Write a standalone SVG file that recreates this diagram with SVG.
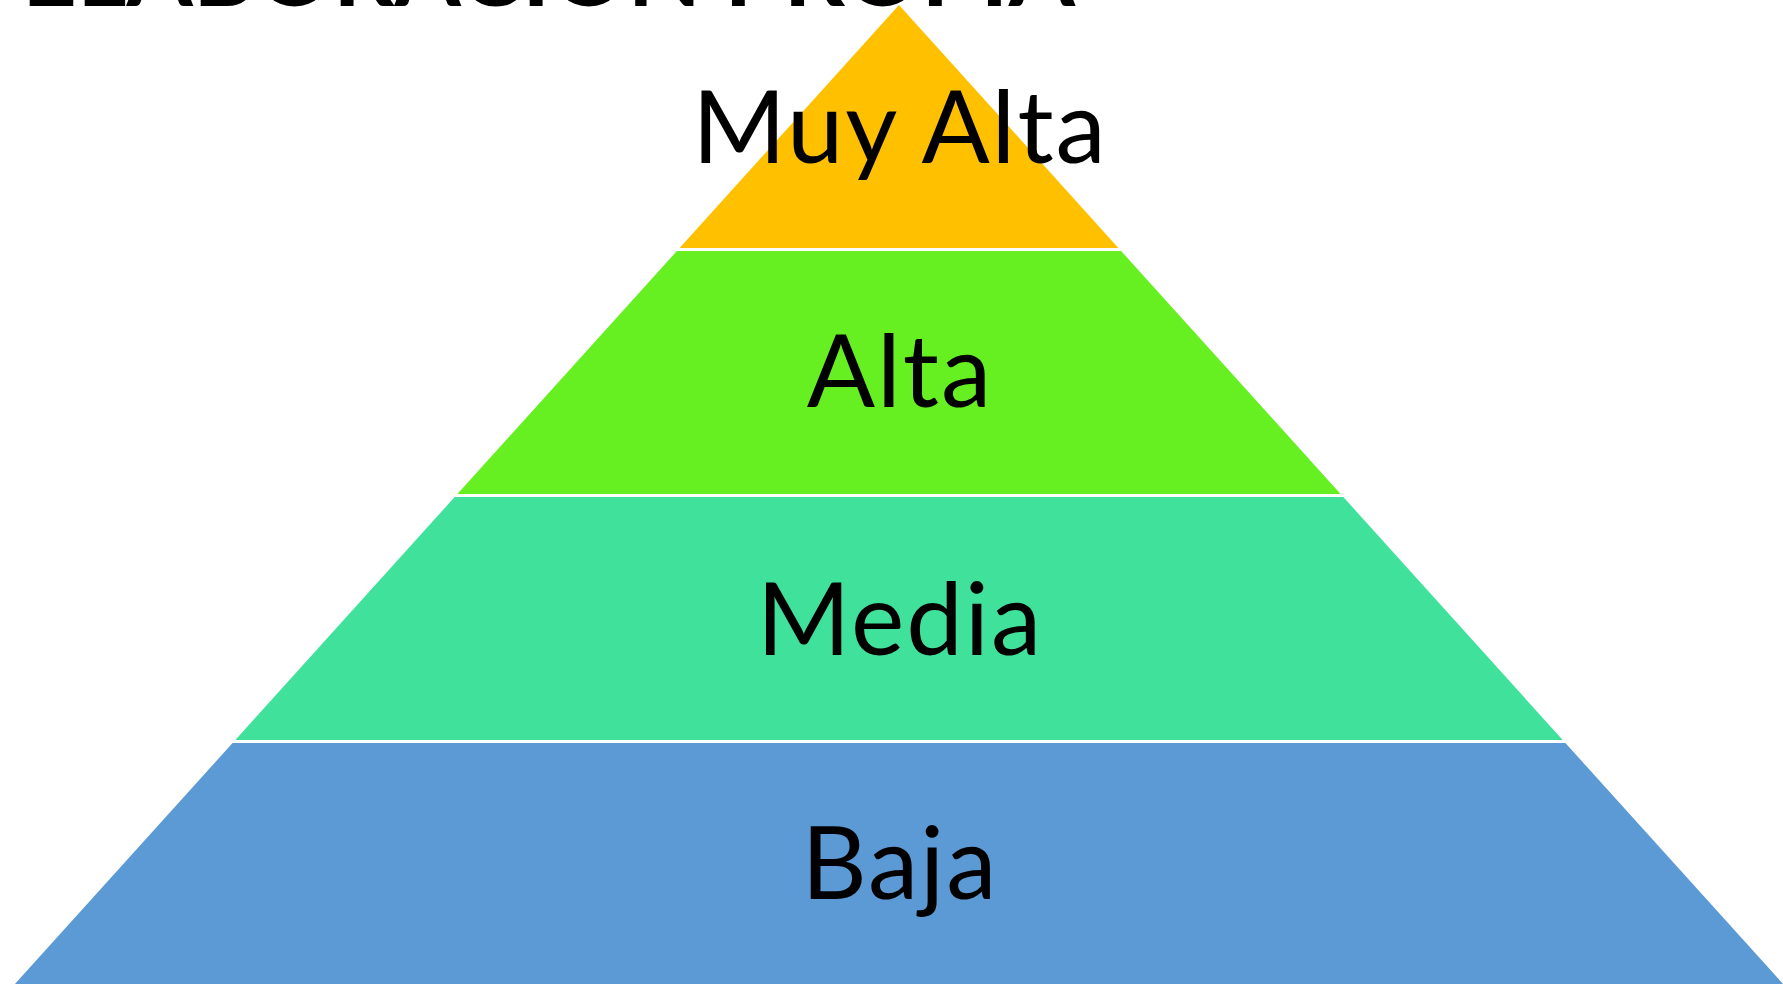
<svg xmlns="http://www.w3.org/2000/svg" width="1783" height="984" viewBox="0 0 1783 984">
  <style>
    .lbl { font-family: "Lato", "Liberation Sans", sans-serif; font-size: 101px; letter-spacing: 2px; fill: #000; text-anchor: middle; }
    .title { font-family: "Lato", "Liberation Sans", sans-serif; font-weight: bold; font-size: 96px; fill: #000; }
  </style>
  <rect width="1783" height="984" fill="#ffffff"/>
  <text class="title" x="22" y="6" textLength="1053" lengthAdjust="spacingAndGlyphs">ELABORACIÓN PROPIA</text>
  <g id="tier-muy-alta">
    <polygon points="899,5 1118.4,248 679.6,248" fill="#FFC000"/>
    <text class="lbl" x="900" y="163">Muy Alta</text>
  </g>
  <g id="tier-alta">
    <polygon points="676.9,251 1121.1,251 1340.6,494 457.4,494" fill="#66EF21"/>
    <text class="lbl" x="900" y="407">Alta</text>
  </g>
  <g id="tier-media">
    <polygon points="454.7,497 1343.3,497 1562.7,740 235.3,740" fill="#40E29B"/>
    <text class="lbl" x="900" y="655">Media</text>
  </g>
  <g id="tier-baja">
    <polygon points="232.6,743 1565.4,743 1788.5,990 9.5,990" fill="#5B9AD5"/>
    <text class="lbl" x="900" y="899">Baja</text>
  </g>
</svg>
